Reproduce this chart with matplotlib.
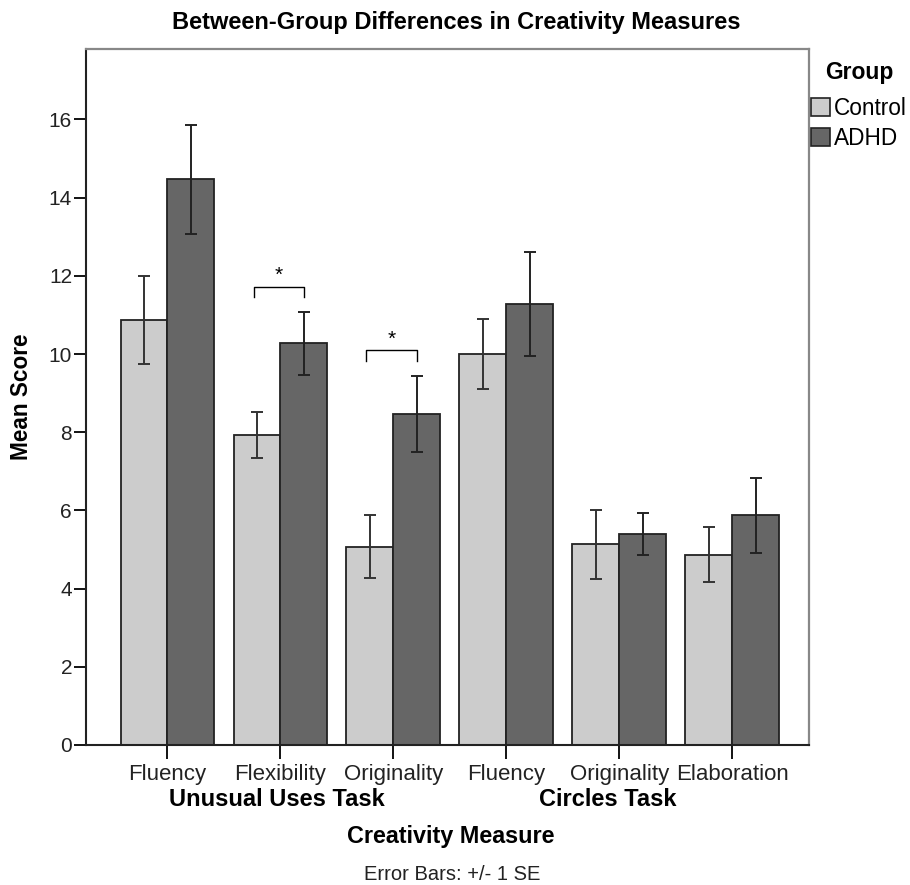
import matplotlib
matplotlib.use("Agg")
import matplotlib.pyplot as plt
import matplotlib.transforms as mtransforms
from matplotlib.patches import Patch
import numpy as np

plt.rcParams['font.family'] = ['Liberation Sans', 'DejaVu Sans']

# Creativity measures and group means with standard errors
measures = ["Fluency", "Flexibility", "Originality", "Fluency", "Originality", "Elaboration"]
task_names = ["Unusual Uses Task", "Circles Task"]
groups = ["Control", "ADHD"]
control_mean = [10.87, 7.93, 5.07, 10.0, 5.13, 4.87]
control_se = [1.12, 0.58, 0.80, 0.90, 0.88, 0.71]
adhd_mean = [14.47, 10.27, 8.47, 11.27, 5.40, 5.87]
adhd_se = [1.39, 0.80, 0.97, 1.33, 0.54, 0.97]
# significant pairwise differences (index of measure)
significant = [1, 2]

fig = plt.figure(figsize=(9.1, 8.85), dpi=100)
ax = fig.add_axes([0.0945, 0.1582, 0.7945, 0.7864])

x = np.arange(len(measures))
w = 0.414
ctrl_color = "#cccccc"
adhd_color = "#666666"
edge = "#222222"
text_color = "#222222"

ax.bar(x - w / 2, control_mean, w, color=ctrl_color, edgecolor=edge, linewidth=1.3, zorder=2)
ax.bar(x + w / 2, adhd_mean, w, color=adhd_color, edgecolor=edge, linewidth=1.3, zorder=2)
ax.errorbar(x - w / 2, control_mean, yerr=control_se, fmt="none", ecolor="#333333",
            elinewidth=1.4, capsize=4.5, capthick=1.4, zorder=3)
ax.errorbar(x + w / 2, adhd_mean, yerr=adhd_se, fmt="none", ecolor="#222222",
            elinewidth=1.4, capsize=4.5, capthick=1.4, zorder=3)

# significance brackets above the pairs
for i in significant:
    top = max(control_mean[i] + control_se[i], adhd_mean[i] + adhd_se[i]) + 0.65
    leg = top - 0.27
    xl, xr = x[i] - w / 2 - 0.03, x[i] + w / 2
    ax.plot([xl, xl, xr, xr], [leg, top, top, leg], color="black", lw=1.0, zorder=3)
    ax.text(x[i] - 0.01, top + 0.05, "*", ha="center", va="bottom", fontsize=15, color="black")

ax.set_xlim(-0.72, 5.68)
ax.set_ylim(0, 17.8)
ax.set_yticks(np.arange(0, 17, 2))
ax.set_xticks(x)
ax.set_xticklabels(measures, fontsize=16, color=text_color)
ax.tick_params(axis="y", labelsize=15, length=9, width=1.3, pad=1, labelcolor=text_color)
ax.tick_params(axis="x", length=10, width=1.3, pad=4)

for s in ["top", "right"]:
    ax.spines[s].set_color("#888888")
    ax.spines[s].set_linewidth(1.6)
for s in ["left", "bottom"]:
    ax.spines[s].set_color("#222222")
    ax.spines[s].set_linewidth(1.5)

ax.set_ylabel("Mean Score", fontsize=16.3, fontweight="bold", labelpad=11)
fig.text(456 / 910, 1 - 23 / 885, "Between-Group Differences in Creativity Measures",
         ha="center", va="center", fontsize=17, fontweight="bold")

# task labels grouped under the measure names
trans = mtransforms.blended_transform_factory(ax.transData, fig.transFigure)
ax.text(0.97, 1 - 799 / 885, task_names[0], transform=trans, ha="center", va="center",
        fontsize=17, fontweight="bold")
ax.text(3.90, 1 - 799 / 885, task_names[1], transform=trans, ha="center", va="center",
        fontsize=17, fontweight="bold")
fig.text(451 / 910, 1 - 837 / 885, "Creativity Measure", ha="center", va="center",
         fontsize=16.8, fontweight="bold")
fig.text(452 / 910, 1 - 874 / 885, "Error Bars: +/- 1 SE", ha="center", va="center",
         fontsize=14.5, color=text_color)

# legend: bold heading plus swatches
fig.text(859 / 910, 1 - 72 / 885, "Group", ha="center", va="center",
         fontsize=16.5, fontweight="bold")
handles = [Patch(facecolor=ctrl_color, edgecolor=edge, linewidth=1.2),
           Patch(facecolor=adhd_color, edgecolor=edge, linewidth=1.2)]
fig.legend(handles, groups, loc="upper left", bbox_to_anchor=(811 / 910, 1 - 97 / 885),
           frameon=False, fontsize=16.3, handlelength=0.85, handleheight=0.85,
           handletextpad=0.15, labelspacing=0.3, borderaxespad=0.0, borderpad=0.0)

fig.savefig("out.png", dpi=100)
